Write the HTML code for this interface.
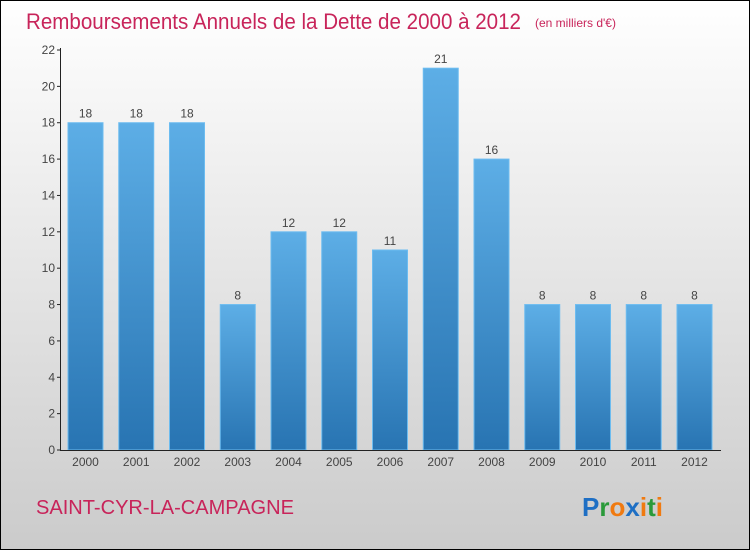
<!DOCTYPE html>
<html><head><meta charset="utf-8"><style>
html,body{margin:0;padding:0}
body{width:750px;height:550px;overflow:hidden;font-family:"Liberation Sans",sans-serif}
</style></head><body>
<svg width="750" height="550" xmlns="http://www.w3.org/2000/svg">
<defs>
<linearGradient id="bg" x1="0" y1="0" x2="0" y2="1"><stop offset="0" stop-color="#ffffff"/><stop offset="1" stop-color="#cbcbcb"/></linearGradient>
<linearGradient id="bar" x1="0" y1="0" x2="0" y2="1"><stop offset="0" stop-color="#5daee6"/><stop offset="1" stop-color="#2874b2"/></linearGradient>
</defs>
<rect x="0.5" y="0.5" width="749" height="549" fill="url(#bg)" stroke="#000"/>
<text x="26" y="29" font-size="22" fill="#c8245a" textLength="495" lengthAdjust="spacingAndGlyphs">Remboursements Annuels de la Dette de 2000 à 2012</text>
<text x="535" y="27" font-size="12" fill="#c8245a">(en milliers d'€)</text>
<g id="yaxis"></g>
<g id="bars"></g>
<g id="xaxis"></g>
<text x="36" y="514" font-size="20" fill="#c8245a" textLength="258" lengthAdjust="spacingAndGlyphs">SAINT-CYR-LA-CAMPAGNE</text>
<g font-size="26" font-weight="bold" font-family="Liberation Sans, sans-serif">
<text x="582" y="516"><tspan fill="#1e6fc4">P</tspan><tspan fill="#2a9a3a">r</tspan><tspan fill="#f07a10">o</tspan><tspan fill="#1e6fc4">x</tspan><tspan fill="#f07a10">i</tspan><tspan fill="#2a9a3a">t</tspan><tspan fill="#f07a10">i</tspan></text>
</g>
</svg>
<script>
const categories=["2000","2001","2002","2003","2004","2005","2006","2007","2008","2009","2010","2011","2012"];
const values=[18,18,18,8,12,12,11,21,16,8,8,8,8];
const yTicks=[0,2,4,6,8,10,12,14,16,18,20,22];
const NS="http://www.w3.org/2000/svg";
const y0=450,y1=50,yMax=22;
function yScale(v){return y0-(v/yMax)*(y0-y1);}
const xStart=61,step=50.75,barW=35;
function xScale(i){return xStart+7+i*step;}
function mk(tag,attrs,parent,txt){const e=document.createElementNS(NS,tag);for(const k in attrs)e.setAttribute(k,attrs[k]);if(txt!==undefined)e.textContent=txt;parent.appendChild(e);return e;}
const ya=document.getElementById('yaxis'),xa=document.getElementById('xaxis'),bg=document.getElementById('bars');
const yl=mk('line',{x1:60.5,y1:48,x2:60.5,y2:451,stroke:'#222','stroke-width':1},ya);


yTicks.forEach(t=>{const y=yScale(t);
 const tk=mk('line',{x1:57,y1:y,x2:61,y2:y,stroke:'#222'},ya);
 
 
 const lb=mk('text',{x:55,y:y+4,'font-size':12,fill:'#444','text-anchor':'end'},ya,String(t));
 
 
});
const xl=mk('line',{x1:60,y1:450.5,x2:721,y2:450.5,stroke:'#222'},xa);


categories.forEach((c,i)=>{const x=xScale(i),v=values[i],y=yScale(v);
 const r=mk('rect',{x:x,y:y,width:barW,height:y0-y,fill:'url(#bar)',stroke:'#6cbcf0','stroke-width':1},bg);
 
 
 const vl=mk('text',{x:x+barW/2,y:y-5,'font-size':12,fill:'#444','text-anchor':'middle'},bg,String(v));
 
 
 const xl2=mk('text',{x:x+barW/2,y:466,'font-size':12,fill:'#444','text-anchor':'middle'},xa,c);
 
 
});
</script>
</body></html>
